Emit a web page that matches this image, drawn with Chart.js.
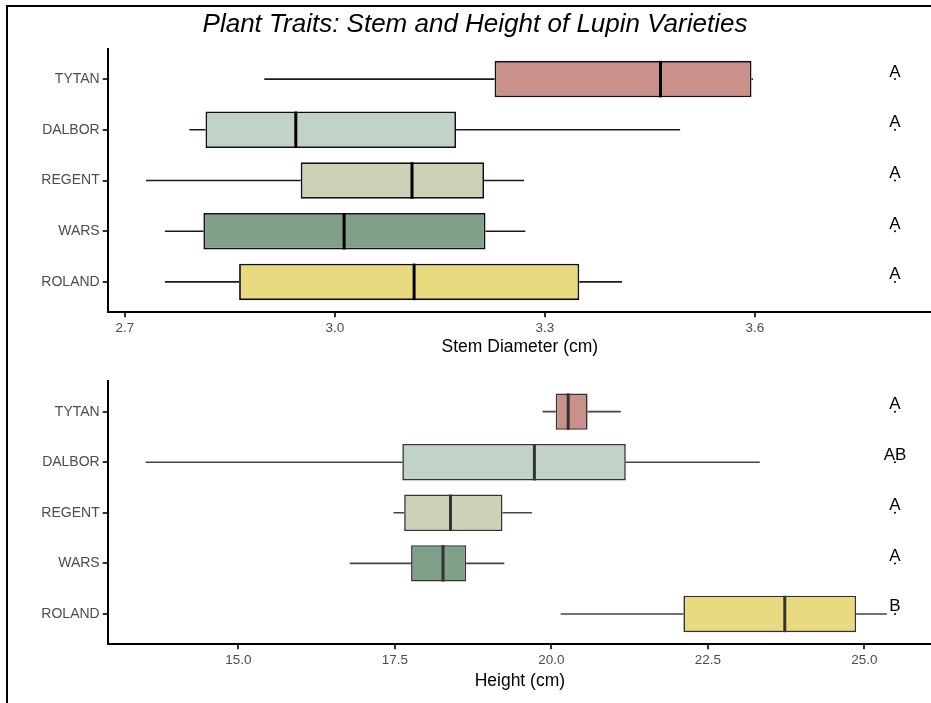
<!DOCTYPE html>
<html><head><meta charset="utf-8">
<script src="https://cdn.jsdelivr.net/npm/chart.js@4.4.1/dist/chart.umd.min.js"></script>
<style>
html,body{margin:0;padding:0;background:#fff;overflow:hidden;width:931px;height:703px;}
#frame{position:absolute;left:6px;top:5px;width:1000px;height:800px;border-left:2px solid #000;border-top:2px solid #000;}
#c1{position:absolute;left:0;top:0;}
#c2{position:absolute;left:0;top:365px;}
</style></head><body>
<div id="frame"></div>
<canvas id="c1" width="950" height="365"></canvas>
<canvas id="c2" width="950" height="338"></canvas>
<script>
// ---- data ----
const varieties = ['ROLAND','WARS','REGENT','DALBOR','TYTAN'];
const boxColors = ['#E9DA80','#81A08A','#CFD0B8','#C1D3C7','#C9918A'];

const stemMin    = [2.757, 2.757, 2.730, 2.792, 2.899];
const stemQ1     = [2.863, 2.812, 2.951, 2.815, 3.228];
const stemMedian = [3.113, 3.013, 3.110, 2.944, 3.465];
const stemQ3     = [3.349, 3.215, 3.213, 3.173, 3.595];
const stemMax    = [3.410, 3.272, 3.270, 3.493, 3.597];
const stemLetters = ['A','A','A','A','A'];
const stemTicks  = [2.7, 3.0, 3.3, 3.6];

const heightMin    = [20.15, 16.78, 17.48, 13.52, 19.86];
const heightQ1     = [22.11, 17.76, 17.65, 17.62, 20.07];
const heightMedian = [23.73, 18.27, 18.39, 19.73, 20.27];
const heightQ3     = [24.87, 18.64, 19.22, 21.19, 20.58];
const heightMax    = [25.36, 19.25, 19.69, 23.33, 21.11];
const heightLetters = ['B','A','A','AB','A'];
const heightTicks  = [15.0, 17.5, 20.0, 22.5, 25.0];

const titleText = 'Plant Traits: Stem and Height of Lupin Varieties';
const FAMILY = '"Liberation Sans", Arial, Helvetica, sans-serif';
Chart.defaults.font.family = FAMILY;

function extrasPlugin(d) {
  return {
    id: 'boxExtras',
    beforeDatasetsDraw(chart) {
      const {ctx, scales: {x, y}} = chart;
      ctx.save();
      ctx.strokeStyle = d.whiskerColor;
      ctx.lineWidth = 1.6;
      d.min.forEach((v, i) => {
        const yc = y.getPixelForValue(i);
        ctx.beginPath();
        ctx.moveTo(x.getPixelForValue(v), yc);
        ctx.lineTo(x.getPixelForValue(d.q1[i]), yc);
        ctx.moveTo(x.getPixelForValue(d.q3[i]), yc);
        ctx.lineTo(x.getPixelForValue(d.max[i]), yc);
        ctx.stroke();
      });
      ctx.restore();
    },
    afterDatasetsDraw(chart) {
      const {ctx, scales: {x, y}} = chart;
      const meta = chart.getDatasetMeta(0);
      ctx.save();
      ctx.strokeStyle = d.medianColor;
      ctx.lineWidth = 3;
      meta.data.forEach((bar, i) => {
        const p = bar.getProps(['y', 'height'], true);
        const xm = x.getPixelForValue(d.median[i]);
        ctx.beginPath();
        ctx.moveTo(xm, p.y - p.height / 2);
        ctx.lineTo(xm, p.y + p.height / 2);
        ctx.stroke();
      });
      ctx.fillStyle = '#000';
      ctx.font = '17px ' + FAMILY;
      ctx.textAlign = 'center';
      ctx.textBaseline = 'alphabetic';
      d.letters.forEach((t, i) => {
        const px = x.getPixelForValue(d.letterX);
        const yc = y.getPixelForValue(i);
        ctx.fillText(t, px, yc - 2.5);
        ctx.beginPath();
        ctx.arc(px, yc, 1, 0, Math.PI * 2);
        ctx.fill();
      });
      ctx.restore();
    }
  };
}

function makeChart(id, d) {
  const cv = document.getElementById(id);
  const H = cv.height;
  return new Chart(cv, {
    type: 'bar',
    data: {
      datasets: [{
        data: varieties.map((v, i) => ({x: [d.q1[i], d.q3[i]], y: i})),
        backgroundColor: boxColors,
        borderColor: d.boxBorder,
        borderWidth: d.boxBorderWidth,
        borderSkipped: false,
        barPercentage: 0.72,
        categoryPercentage: 1
      }]
    },
    plugins: [extrasPlugin(d)],
    options: {
      indexAxis: 'y',
      responsive: false,
      animation: false,
      events: [],
      layout: {padding: {top: d.padTop, left: 18, right: 18, bottom: 0}},
      plugins: {
        legend: {display: false},
        tooltip: {enabled: false},
        title: d.title ? {
          display: true, text: d.title, color: '#000',
          font: {size: 26, style: 'italic', weight: 'normal', family: FAMILY},
          padding: {top: 9, bottom: 8.5}
        } : {display: false}
      },
      scales: {
        x: {
          type: 'linear', min: d.xMin, max: d.xMax, offset: false,
          afterBuildTicks: s => { s.ticks = d.ticks.map(v => ({value: v})); },
          afterFit: s => { s.height = H - d.axisY; },
          ticks: {callback: v => Number(v).toFixed(1), color: '#4d4d4d',
                  font: {size: 13.5}, padding: 3, maxRotation: 0, autoSkip: false},
          grid: {offset: false, drawOnChartArea: false, drawTicks: true, tickLength: 5, color: '#333', lineWidth: 2},
          border: {display: true, color: '#000', width: 2},
          title: {display: true, text: d.xTitle, color: '#000', font: {size: 17.5},
                  padding: {top: 0, bottom: d.titleBottom}}
        },
        y: {
          type: 'linear', min: -0.6, max: 4.6, offset: false,
          afterBuildTicks: s => { s.ticks = varieties.map((v, i) => ({value: i})); },
          afterFit: s => { s.width = 89.7; },
          ticks: {callback: v => varieties[v], color: '#4d4d4d', font: {size: 14}, padding: 3, autoSkip: false},
          grid: {offset: false, drawOnChartArea: false, drawTicks: true, tickLength: 5, color: '#333', lineWidth: 2},
          border: {display: true, color: '#000', width: 2}
        }
      }
    }
  });
}

makeChart('c1', {
  title: titleText, padTop: 0, axisY: 312.3, titleBottom: 7.5,
  xMin: 2.6753, xMax: 2.7 + (932 - 125) / 700, ticks: stemTicks, xTitle: 'Stem Diameter (cm)',
  min: stemMin, q1: stemQ1, median: stemMedian, q3: stemQ3, max: stemMax,
  letters: stemLetters, letterX: 3.8,
  boxBorder: '#111', boxBorderWidth: 1.8, whiskerColor: '#1a1a1a', medianColor: '#000'
});
makeChart('c2', {
  title: null, padTop: 16.3, axisY: 279.3, titleBottom: 11.8,
  xMin: 12.914, xMax: 15 + (932 - 238.3) / 62.6, ticks: heightTicks, xTitle: 'Height (cm)',
  min: heightMin, q1: heightQ1, median: heightMedian, q3: heightQ3, max: heightMax,
  letters: heightLetters, letterX: 25.49,
  boxBorder: '#333', boxBorderWidth: 1.6, whiskerColor: '#444', medianColor: '#333'
});
</script>
</body></html>
